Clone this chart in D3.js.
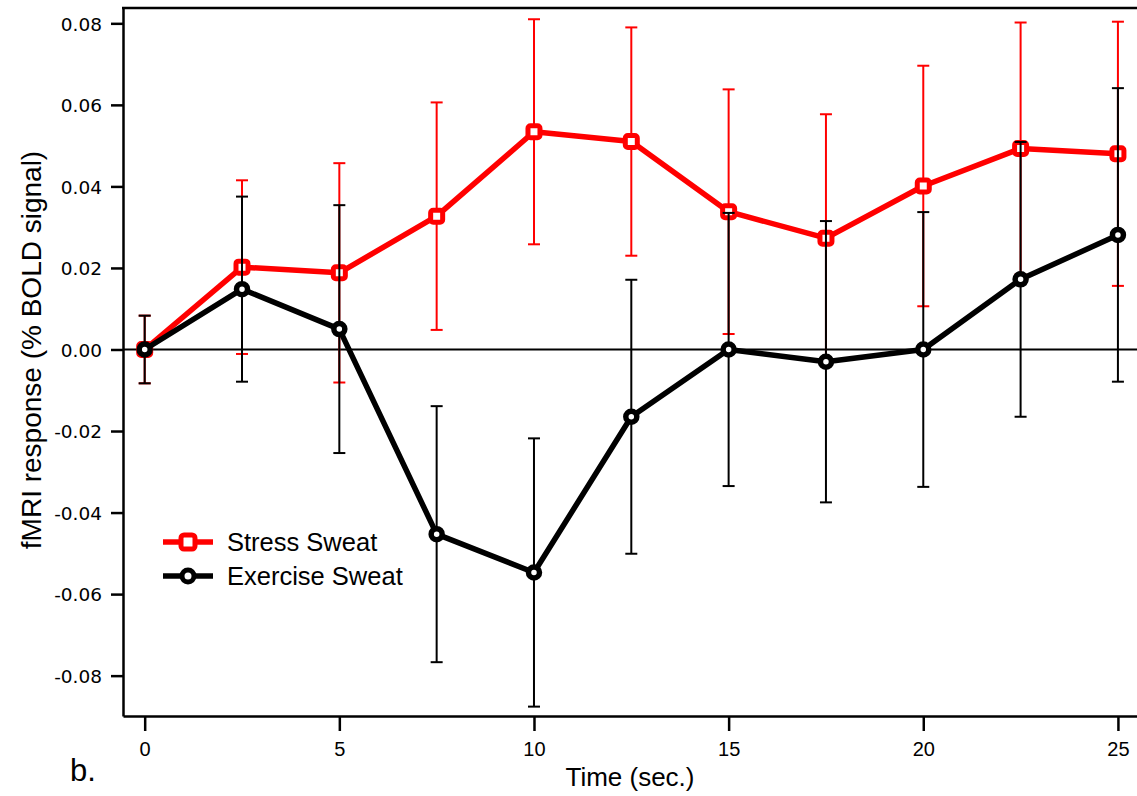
<!DOCTYPE html>
<html>
<head>
<meta charset="utf-8">
<script src="https://cdn.jsdelivr.net/npm/d3@7"></script>
<style>
  body { margin:0; background:#fff; }
  svg { display:block; }
</style>
</head>
<body>
<div id="chart"></div>
<script>
// time points (sec.)
var times = [0, 2.5, 5, 7.5, 10, 12.5, 15, 17.5, 20, 22.5, 25]

// Stress Sweat: mean and error (+/-)
var stressMean = [0, 0.0202, 0.0188, 0.0327, 0.0534, 0.0510, 0.0338, 0.0273, 0.0401, 0.0493, 0.0480]
var stressErr  = [0.0083, 0.0213, 0.0269, 0.0279, 0.0276, 0.0280, 0.0300, 0.0304, 0.0295, 0.0309, 0.0324]

// Exercise Sweat: mean and error (+/-)
var exerciseMean = [0, 0.0148, 0.0050, -0.0453, -0.0547, -0.0165, 0.0000, -0.0030, 0.0000, 0.0172, 0.0281]
var exerciseErr  = [0.0083, 0.0227, 0.0304, 0.0314, 0.0329, 0.0336, 0.0335, 0.0345, 0.0337, 0.0337, 0.0360]

var xTicks = [0, 5, 10, 15, 20, 25]
var yTicks = [-0.08, -0.06, -0.04, -0.02, 0, 0.02, 0.04, 0.06, 0.08]

var seriesNames = ['Stress Sweat', 'Exercise Sweat']

var W = 1137, H = 796
var pLeft = 123, pTop = 8, pRight = 1137, pBottom = 716

var svg = d3.select('#chart').append('svg')
  .attr('width', W).attr('height', H)

var x = d3.scaleLinear().domain([-0.557, 25.49]).range([pLeft, pRight])
var y = d3.scaleLinear().domain([-0.0899, 0.08376]).range([pBottom, pTop])

//zero reference line
svg.append('line')
  .attr('x1', pLeft).attr('x2', pRight)
  .attr('y1', y(0)).attr('y2', y(0))
  .attr('stroke', '#000').attr('stroke-width', 2)

//top frame line
svg.append('line')
  .attr('x1', pLeft - 1).attr('x2', pRight)
  .attr('y1', pTop).attr('y2', pTop)
  .attr('stroke', '#000').attr('stroke-width', 2.5)

//y axis
var yAxis = svg.append('g')
  .attr('transform', 'translate(' + pLeft + ',0)')
  .call(d3.axisLeft(y).tickValues(yTicks).tickSize(12).tickSizeOuter(0).tickPadding(9)
    .tickFormat(function(d){ return d3.format('.2f')(d).replace('\u2212', '-') }))
yAxis.select('.domain').attr('stroke-width', 2.5)
yAxis.selectAll('.tick line').attr('stroke-width', 2.5)
yAxis.selectAll('.tick text')
  .attr('font-family', '"DejaVu Sans", sans-serif')
  .attr('font-size', 18.5)
  .attr('fill', '#000')
  .attr('dy', '0.36em')

//x axis
var xAxis = svg.append('g')
  .attr('transform', 'translate(0,' + pBottom + ')')
  .call(d3.axisBottom(x).tickValues(xTicks).tickSize(15).tickSizeOuter(0).tickPadding(11)
    .tickFormat(d3.format('d')))
xAxis.select('.domain').attr('stroke-width', 2.5)
xAxis.selectAll('.tick line').attr('stroke-width', 2.5)
xAxis.selectAll('.tick text')
  .attr('font-family', '"Liberation Sans", sans-serif')
  .attr('font-size', 20)
  .attr('fill', '#000')

//axis titles
svg.append('text')
  .attr('x', (pLeft + pRight) / 2).attr('y', 786)
  .attr('text-anchor', 'middle')
  .attr('font-family', '"Liberation Sans", sans-serif')
  .attr('font-size', 26)
  .text('Time (sec.)')

svg.append('text')
  .attr('transform', 'translate(41,350) rotate(-90)')
  .attr('text-anchor', 'middle')
  .attr('font-family', '"Liberation Sans", sans-serif')
  .attr('font-size', 28)
  .text('fMRI response (% BOLD signal)')

svg.append('text')
  .attr('x', 70).attr('y', 781)
  .attr('font-family', '"Liberation Sans", sans-serif')
  .attr('font-size', 31)
  .text('b.')

//draw one series: error bars, line, markers
function drawSeries(means, errs, clr, shape){
  var g = svg.append('g')
  var pts = times.map(function(t, i){ return {t:t, m:means[i], e:errs[i]} })

  var eb = g.selectAll('.eb').data(pts).enter().append('g')
    .attr('stroke', clr).attr('stroke-width', 2)
  eb.append('line')
    .attr('x1', function(d){ return x(d.t) }).attr('x2', function(d){ return x(d.t) })
    .attr('y1', function(d){ return y(d.m + d.e) }).attr('y2', function(d){ return y(d.m - d.e) })
  eb.append('line')
    .attr('x1', function(d){ return x(d.t) - 6 }).attr('x2', function(d){ return x(d.t) + 6 })
    .attr('y1', function(d){ return y(d.m + d.e) }).attr('y2', function(d){ return y(d.m + d.e) })
  eb.append('line')
    .attr('x1', function(d){ return x(d.t) - 6 }).attr('x2', function(d){ return x(d.t) + 6 })
    .attr('y1', function(d){ return y(d.m - d.e) }).attr('y2', function(d){ return y(d.m - d.e) })

  var line = d3.line().x(function(d){ return x(d.t) }).y(function(d){ return y(d.m) })
  g.append('path').datum(pts)
    .attr('d', line)
    .attr('fill', 'none')
    .attr('stroke', clr).attr('stroke-width', 5.5)
    .attr('stroke-linejoin', 'round')

  if(shape == 'square'){
    g.selectAll('.mk').data(pts).enter().append('rect')
      .attr('x', function(d){ return x(d.t) - 6 }).attr('y', function(d){ return y(d.m) - 6 })
      .attr('width', 12).attr('height', 12).attr('rx', 2.5)
      .attr('fill', '#fff').attr('stroke', clr).attr('stroke-width', 5)
  }else{
    g.selectAll('.mk').data(pts).enter().append('circle')
      .attr('cx', function(d){ return x(d.t) }).attr('cy', function(d){ return y(d.m) })
      .attr('r', 5.5)
      .attr('fill', '#fff').attr('stroke', clr).attr('stroke-width', 5.5)
  }
}

drawSeries(stressMean, stressErr, '#ff0000', 'square')
drawSeries(exerciseMean, exerciseErr, '#000000', 'circle')

//legend
var legend = svg.append('g')
var legItems = [
  {name: seriesNames[0], clr: '#ff0000', shape: 'square', y: 542},
  {name: seriesNames[1], clr: '#000000', shape: 'circle', y: 576}
]
legItems.forEach(function(it){
  legend.append('line')
    .attr('x1', 163).attr('x2', 213)
    .attr('y1', it.y).attr('y2', it.y)
    .attr('stroke', it.clr).attr('stroke-width', 5.5)
  if(it.shape == 'square'){
    legend.append('rect')
      .attr('x', 188 - 7).attr('y', it.y - 7)
      .attr('width', 14).attr('height', 14).attr('rx', 3)
      .attr('fill', '#fff').attr('stroke', it.clr).attr('stroke-width', 5)
  }else{
    legend.append('circle')
      .attr('cx', 188).attr('cy', it.y).attr('r', 6)
      .attr('fill', '#fff').attr('stroke', it.clr).attr('stroke-width', 5)
  }
  legend.append('text')
    .attr('x', 227).attr('y', it.y + 9)
    .attr('font-family', '"Liberation Sans", sans-serif')
    .attr('font-size', 25.5)
    .text(it.name)
})
</script>
</body>
</html>
